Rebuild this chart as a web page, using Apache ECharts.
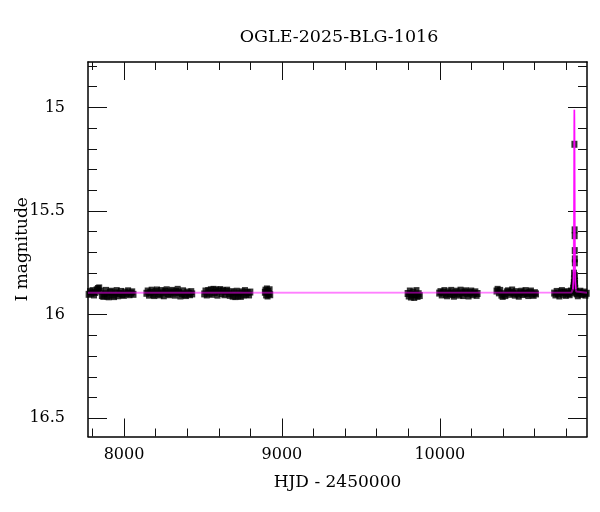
<!DOCTYPE html>
<html>
<head>
<meta charset="utf-8">
<script src="https://cdn.jsdelivr.net/npm/echarts@6/dist/echarts.min.js"></script>
<style>html,body{margin:0;padding:0;background:#fff}#chart{width:600px;height:512px}</style>
</head>
<body>
<div id="chart"></div>
<script>
// ---- data (HJD - 2450000, I magnitude) ----
const season2017 = [[7776,15.902],[7785,15.889],[7793,15.897],[7801,15.884],[7810,15.905],[7818,15.893],[7827,15.880],[7835,15.874],[7843,15.871],[7852,15.886],[7860,15.908],[7869,15.912],[7877,15.899],[7886,15.883],[7894,15.910],[7903,15.914],[7911,15.892],[7920,15.887],[7928,15.906],[7937,15.913],[7946,15.895],[7954,15.884],[7963,15.909],[7972,15.898],[7981,15.888],[7990,15.903],[7999,15.907],[8008,15.891],[8017,15.899],[8026,15.885],[8035,15.904],[8044,15.896],[8052,15.890],[8060,15.902]];
const season2018 = [[8142,15.897],[8150,15.886],[8158,15.906],[8167,15.893],[8175,15.882],[8184,15.902],[8192,15.908],[8201,15.889],[8209,15.881],[8218,15.900],[8226,15.905],[8235,15.884],[8244,15.895],[8252,15.909],[8261,15.887],[8270,15.880],[8279,15.899],[8287,15.904],[8296,15.890],[8305,15.883],[8313,15.896],[8322,15.906],[8331,15.888],[8340,15.878],[8348,15.893],[8357,15.910],[8366,15.899],[8374,15.885],[8383,15.903],[8392,15.908],[8401,15.891],[8410,15.897],[8418,15.904],[8426,15.889],[8432,15.900]];
const season2019 = [[8508,15.900],[8516,15.886],[8524,15.905],[8533,15.884],[8541,15.897],[8550,15.880],[8558,15.902],[8567,15.878],[8575,15.893],[8584,15.881],[8592,15.906],[8601,15.886],[8610,15.879],[8618,15.898],[8627,15.884],[8636,15.904],[8644,15.888],[8653,15.882],[8662,15.899],[8670,15.907],[8679,15.889],[8688,15.911],[8696,15.895],[8705,15.913],[8714,15.887],[8722,15.909],[8731,15.896],[8740,15.912],[8748,15.890],[8757,15.906],[8766,15.884],[8774,15.902],[8783,15.893],[8792,15.905],[8800,15.891]];
const season2020 = [[8892,15.892],[8896,15.882],[8900,15.905],[8905,15.876],[8909,15.910],[8913,15.888],[8918,15.899],[8922,15.880],[8926,15.904]];
const season2022 = [[9796,15.898],[9803,15.910],[9810,15.886],[9817,15.915],[9824,15.902],[9831,15.891],[9838,15.917],[9845,15.905],[9852,15.884],[9859,15.912],[9866,15.899],[9873,15.908]];
const season2023 = [[9996,15.896],[10004,15.889],[10012,15.905],[10021,15.893],[10029,15.884],[10038,15.902],[10046,15.909],[10055,15.890],[10063,15.898],[10072,15.883],[10080,15.903],[10089,15.911],[10097,15.894],[10106,15.887],[10114,15.900],[10123,15.906],[10131,15.882],[10140,15.895],[10148,15.908],[10157,15.891],[10165,15.885],[10174,15.899],[10182,15.910],[10191,15.893],[10199,15.886],[10208,15.904],[10216,15.897],[10225,15.890],[10233,15.907],[10239,15.898]];
const season2024 = [[10359,15.886],[10366,15.878],[10374,15.895],[10382,15.883],[10390,15.906],[10398,15.912],[10407,15.899],[10415,15.908],[10424,15.890],[10432,15.885],[10441,15.902],[10449,15.893],[10458,15.881],[10466,15.897],[10475,15.906],[10483,15.889],[10492,15.900],[10500,15.911],[10509,15.894],[10517,15.887],[10526,15.903],[10534,15.896],[10543,15.884],[10551,15.899],[10560,15.908],[10568,15.892],[10577,15.886],[10585,15.901],[10594,15.907],[10602,15.894],[10609,15.900]];
const season2025 = [[10724,15.896],[10732,15.905],[10740,15.888],[10748,15.899],[10757,15.910],[10765,15.891],[10773,15.884],[10781,15.902],[10790,15.893],[10798,15.907],[10806,15.889],[10814,15.898],[10822,15.904],[10830,15.886],[10838,15.895],[10844,15.872],[10847,15.861],[10849,15.845],[10856,15.850],[10858,15.872],[10861,15.888],[10867,15.900],[10874,15.909],[10882,15.893],[10890,15.887],[10898,15.903],[10906,15.898],[10914,15.891],[10922,15.906],[10930,15.897]];
const peakPoints = [[10852.3,15.178],[10853.6,15.591],[10853.8,15.619],[10854.4,15.691],[10854.9,15.731],[10855.1,15.750],[10849.6,15.800],[10855.8,15.812],[10849.2,15.828],[10856.4,15.838],[10850.0,15.856]];
const modelT   = [7772, 10834, 10840, 10843, 10846, 10847.5, 10849, 10849.75, 10850.5, 10851.25, 10852, 10852.75, 10853.5, 10854.25, 10855, 10856.5, 10858, 10861, 10864, 10870, 10932];
const modelMag = [15.894, 15.893, 15.888, 15.877, 15.836, 15.774, 15.633, 15.505, 15.325, 15.118, 15.011, 15.118, 15.325, 15.505, 15.633, 15.774, 15.836, 15.877, 15.888, 15.893, 15.894];
const xTickLabels = [8000, 9000, 10000];
const xMinorTicks = [7800, 8200, 8400, 8600, 8800, 9200, 9400, 9600, 9800, 10200, 10400, 10600, 10800];
const yTickLabels = [15, 15.5, 16, 16.5];
const yMinorTicks = [14.8, 14.9, 15.1, 15.2, 15.3, 15.4, 15.6, 15.7, 15.8, 15.9, 16.1, 16.2, 16.3, 16.4];

const observations = [].concat(season2017, season2018, season2019, season2020, season2022, season2023, season2024, season2025, peakPoints);
const modelData = modelT.map((t, i) => [t, modelMag[i]]);
const modelPeak = modelData.slice(3, modelData.length - 3);

const FONT = '"DejaVu Serif", "Liberation Serif", serif';
const X_MIN = 7772, X_MAX = 10932, Y_MIN = 14.781, Y_MAX = 16.588;
const lineStyle = { color: '#000', width: 1.5 };
const tickStyle = { color: '#111', width: 1 };

function xAx(pos, major, labels) {
  return {
    type: 'value', min: X_MIN, max: X_MAX, position: pos, gridIndex: 0,
    axisLine: { show: major, lineStyle: lineStyle },
    axisTick: { show: true, inside: true, length: major ? 18 : 8, customValues: major ? xTickLabels : xMinorTicks, lineStyle: tickStyle },
    axisLabel: labels ? { show: true, customValues: xTickLabels, formatter: v => String(v), margin: 10, color: '#000', fontFamily: FONT, fontSize: 16 } : { show: false },
    splitLine: { show: false }
  };
}
function yAx(pos, major, labels) {
  return {
    type: 'value', min: Y_MIN, max: Y_MAX, inverse: true, position: pos, gridIndex: 0,
    axisLine: { show: major, lineStyle: lineStyle },
    axisTick: { show: true, inside: true, length: major ? 19 : 9, customValues: major ? yTickLabels : yMinorTicks, lineStyle: tickStyle },
    axisLabel: labels ? { show: true, customValues: yTickLabels, formatter: v => String(v), margin: 23, color: '#000', fontFamily: FONT, fontSize: 16 } : { show: false },
    splitLine: { show: false }
  };
}

const xAxes = [xAx('bottom', true, true), xAx('bottom', false, false), xAx('top', true, false), xAx('top', false, false)];
Object.assign(xAxes[0], { name: 'HJD - 2450000', nameLocation: 'middle', nameGap: 38, nameMoveOverlap: false, nameTextStyle: { color: '#000', fontFamily: FONT, fontSize: 17 } });
const yAxes = [yAx('left', true, true), yAx('left', false, false), yAx('right', true, false), yAx('right', false, false)];
Object.assign(yAxes[0], { name: 'I magnitude', nameLocation: 'middle', nameGap: 57, nameMoveOverlap: false, nameTextStyle: { color: '#000', fontFamily: FONT, fontSize: 17 } });

const chart = echarts.init(document.getElementById('chart'), null, { renderer: 'canvas' });
chart.setOption({
  animation: false,
  backgroundColor: '#fff',
  title: {
    text: 'OGLE-2025-BLG-1016', left: 334, top: 23, textAlign: 'center',
    textStyle: { color: '#000', fontFamily: FONT, fontSize: 17.5, fontWeight: 'normal' }
  },
  grid: { left: 88, right: 13, top: 62, bottom: 75.5, outerBoundsMode: 'none' },
  xAxis: xAxes,
  yAxis: yAxes,
  series: [
    {
      type: 'scatter', xAxisIndex: 0, yAxisIndex: 0, data: observations,
      symbol: 'rect', symbolSize: [6, 7], itemStyle: { color: '#000' }, z: 2
    },
    {
      type: 'line', xAxisIndex: 0, yAxisIndex: 0, data: modelData, showSymbol: false,
      lineStyle: { color: '#ff00ff', width: 2, opacity: 0.5 }, z: 3
    },
    {
      type: 'line', xAxisIndex: 0, yAxisIndex: 0, data: modelPeak, showSymbol: false,
      lineStyle: { color: '#ff00ff', width: 1.3, opacity: 0.9 }, z: 4
    }
  ]
});
</script>
</body>
</html>
